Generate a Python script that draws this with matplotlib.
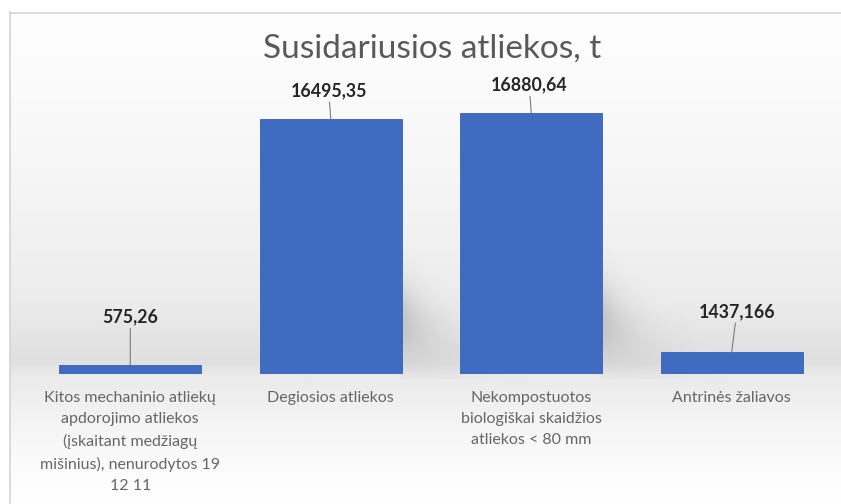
import numpy as np
import matplotlib.pyplot as plt

categories = [
    "Kitos mechaninio atliekų\napdorojimo atliekos\n(įskaitant medžiagų\nmišinius), nenurodytos 19\n12 11",
    "Degiosios atliekos",
    "Nekompostuotos\nbiologiškai skaidžios\natliekos < 80 mm",
    "Antrinės žaliavos",
]
values = [575.26, 16495.35, 16880.64, 1437.166]
value_labels = ["575,26", "16495,35", "16880,64", "1437,166"]
title = "Susidariusios atliekos, t"

W, H = 841, 504
plt.rcParams['font.family'] = ['Lato', 'DejaVu Sans']
fig = plt.figure(figsize=(W / 100, H / 100), dpi=100)
fig.patch.set_facecolor('white')

# background gradient inside the chart frame
bg = fig.add_axes([0, 0, 1, 1], zorder=-2)
bg.set_axis_off()
ys = [0, 12, 100, 200, 300, 350, 362, 375, 420, 470, 504]
gs = [255, 254, 250, 244, 236, 226, 224, 234, 244, 252, 255]
col = np.interp(np.arange(H), ys, gs) / 255.0
img = np.repeat(col[:, None], W, axis=1)
img[:12, :] = 1.0
img[:, :10] = 1.0
bg.imshow(np.dstack([img, img, img]), extent=(0, W, H, 0), aspect='auto')
bg.set_xlim(0, W)
bg.set_ylim(H, 0)
bg.plot([10, W], [12.5, 12.5], color='#d4d4d4', lw=1.2)
bg.plot([10.5, 10.5], [12, H], color='#d4d4d4', lw=1.2)

ax = fig.add_axes([30 / W, (H - 374) / H, 802 / W, 278.3 / H])
ax.set_xlim(-0.5, len(values) - 0.5)
ax.set_ylim(0, 18000)
ax.patch.set_alpha(0)
for s in ax.spines.values():
    s.set_visible(False)
ax.set_yticks([])

x = np.arange(len(values))
bar_w = 0.71

# soft shadow to the right of each bar (lower part)
sh = fig.add_axes([0, 0, 1, 1], zorder=-1)
sh.set_axis_off()
sh.set_xlim(0, W)
sh.set_ylim(H, 0)
px, py = np.meshgrid(np.arange(W), np.arange(H))
dark = np.zeros((H, W))
for xi, v in zip(x, values):
    x0, y_top = ax.transData.transform((xi - bar_w / 2, v))
    x1, y_bot = ax.transData.transform((xi + bar_w / 2, 0))
    y_top, y_bot = H - y_top, H - y_bot
    dx = px - x1
    # diagonal smear: shifts downward as it moves right
    yc = y_bot - 55 + dx * 0.55
    span = max(min(y_bot - y_top, 110), 10)
    fx = np.where(dx > -3, np.exp(-np.clip(dx, 0, None) / 30.0), 0)
    fy = np.exp(-((py - yc) / (span * 0.35)) ** 2)
    fy = np.where(py > y_bot + 4, 0, fy)
    fy = np.where(py < y_top, 0, fy)
    dark = np.maximum(dark, 0.26 * fx * fy)
rgba = np.zeros((H, W, 4))
rgba[..., :3] = 0.35
rgba[..., 3] = dark
sh.imshow(rgba, extent=(0, W, H, 0), aspect='auto')

ax.bar(x, values, width=bar_w, color='#3f6cc0', edgecolor='#3862b2', lw=0.6, zorder=3)

offsets = [(0, 48), (-2, 28), (-2, 28), (5, 40)]
for xi, v, lab, (ox, oy) in zip(x, values, value_labels, offsets):
    ax.annotate(lab, xy=(xi, v), xytext=(ox, oy), textcoords='offset pixels',
                ha='center', va='center', fontsize=12.8, fontweight='bold',
                color='#262626', zorder=5,
                arrowprops=dict(arrowstyle='-', color='#7a7a7a', lw=0.8,
                                shrinkA=0, shrinkB=0))

ax.set_xticks(x)
ax.set_xticklabels(categories, fontsize=11.5, color='#666666', linespacing=1.66,
                   va='top')
ax.tick_params(axis='x', length=0, pad=12)

fig.text(432 / W, 1 - 49 / H, title, ha='center', va='center',
         fontsize=24, color='#595959')

fig.savefig('out.png', dpi=100)
